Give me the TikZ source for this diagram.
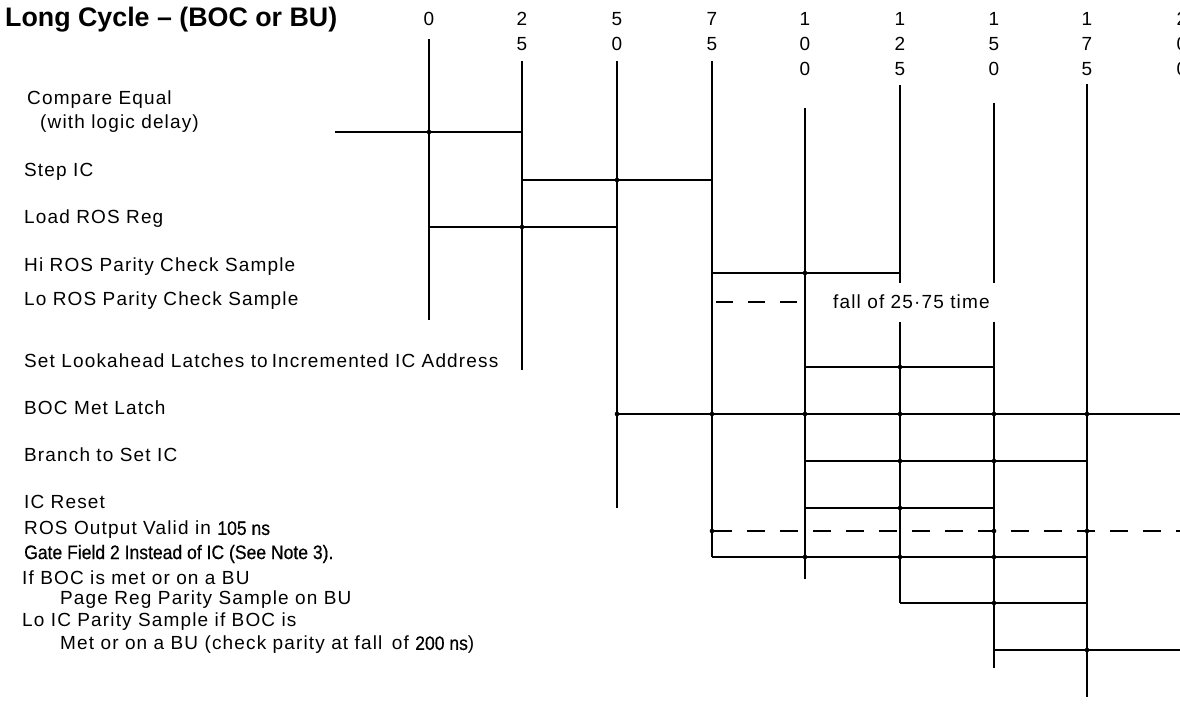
\documentclass[tikz,border=0pt]{standalone}
\usepackage{fontspec}
\setmainfont{Liberation Sans}
\newfontfamily\lblfont[LetterSpace=6]{Liberation Sans}
\newfontfamily\gatefont[FakeStretch=0.9,FakeBold=0.5]{Liberation Sans}
\begin{document}
\begin{tikzpicture}[x=1pt,y=-1pt,
  sig/.style={line width=1.3pt},
  dsig/.style={line width=1.3pt, dash pattern=on 18pt off 15pt},
  jdot/.style={circle, fill=black, inner sep=0pt, minimum size=4.6pt},
  lbl/.style={anchor=west, inner sep=0pt, font=\lblfont\fontsize{19}{21}\selectfont},
  num/.style={inner sep=0pt, font=\lblfont\fontsize{19}{21}\selectfont},
  plain/.style={anchor=west, inner sep=0pt, font=\gatefont\fontsize{19.5}{21}\selectfont}]
\useasboundingbox (0,0) rectangle (1180,720);
\fill[white] (0,0) rectangle (1180,720);

% title
\node[anchor=west, inner sep=0pt, font=\fontsize{26.8}{30}\selectfont\bfseries] (title) at (5,20) {Long Cycle -- (BOC or BU)};

% header digits
\foreach \x/\a/\b/\c [count=\i] in {429/0//, 522/2/5/, 617/5/0/, 712/7/5/, 805/1/0/0, 900/1/2/5, 994/1/5/0, 1087/1/7/5, 1182/2/0/0}{
  \node[num] (ha\i) at (\x,19) {\a};
  \node[num] (hb\i) at (\x,44) {\b};
  \node[num] (hc\i) at (\x,69) {\c};
}

% vertical time lines
\foreach \x/\t/\b [count=\i] in {429/39/320, 522/61/370, 617/61/508, 712/61/557, 805/108/579, 900/85/603, 994/103/668, 1087/84/697}{
  \coordinate (t\i) at (\x,\t);
  \coordinate (b\i) at (\x,\b);
  \draw[sig] (t\i) -- (b\i);
}

% labels
\node[lbl] (l1) at (27,100) {Compare Equal};
\node[lbl] (l1b) at (40,124) {(with logic delay)};
\node[lbl] (l2) at (24,172) {Step IC};
\node[lbl] (l3) at (24,219) {Load ROS Reg};
\node[lbl] (l4) at (24,267) {Hi ROS Parity Check Sample};
\node[lbl] (l5) at (24,301) {Lo ROS Parity Check Sample};
\node[lbl] (l6) at (24,361) {Set Lookahead Latches to\hspace{4pt}Incremented IC Address};
\node[lbl] (l7) at (24,408) {BOC Met Latch};
\node[lbl] (l8) at (24,455) {Branch to Set IC};
\node[lbl] (l9) at (24,502) {IC Reset};
\node[lbl] (l10) at (24,530) {ROS Output Valid in {\gatefont\fontsize{19.5}{21}\selectfont 105 ns}};
\node[plain] (l11) at (24,554) {Gate Field 2 Instead of IC (See Note 3).};
\node[lbl] (l12) at (22,578) {If BOC is met or on a BU};
\node[lbl] (l13) at (60,600) {Page Reg Parity Sample on BU};
\node[lbl] (l14) at (22,622) {Lo IC Parity Sample if BOC is};
\node[lbl] (l15) at (60,645) {Met or on a BU (check parity at fall\hspace{3pt} of {\gatefont\fontsize{19.5}{21}\selectfont 200 ns})};

% signals
\coordinate (ce0) at (335,132);
\draw[sig] (ce0) -- (522,132);
\node[jdot] (d1) at (429,132) {};

\draw[sig] (522,180) -- (712,180);
\node[jdot] (d2) at (617,180) {};

\draw[sig] (429,227) -- (617,227);
\node[jdot] (d3) at (522,227) {};

\draw[sig] (712,273) -- (900,273);
\node[jdot] (d4) at (805,273) {};

\draw[line width=1.3pt, dash pattern=on 17pt off 15pt] (716,302) -- (800,302);
\node[lbl, fill=white, inner xsep=5pt, minimum height=39pt] (fall) at (828,302) {fall of 25·75 time};

\draw[sig] (805,367) -- (994,367);
\node[jdot] (d5) at (900,367) {};

\draw[sig] (617,414) -- (1190,414);
\foreach \x [count=\i] in {617,712,805,900,994,1087} \node[jdot] (e\i) at (\x,414) {};

\draw[sig] (805,461) -- (1087,461);
\foreach \x [count=\i] in {900,994} \node[jdot] (f\i) at (\x,461) {};

\draw[sig] (805,508) -- (994,508);
\node[jdot] (d6) at (900,508) {};

\draw[dsig] (714,531) -- (1190,531);
\foreach \x [count=\i] in {712,994,1087} \node[jdot] (g\i) at (\x,531) {};

\draw[sig] (712,557) -- (1087,557);
\foreach \x [count=\i] in {805,900,994} \node[jdot] (h\i) at (\x,557) {};

\draw[sig] (900,603) -- (1087,603);
\node[jdot] (d7) at (994,603) {};

\draw[sig] (994,650) -- (1190,650);
\node[jdot] (d8) at (1087,650) {};
\end{tikzpicture}
\end{document}
